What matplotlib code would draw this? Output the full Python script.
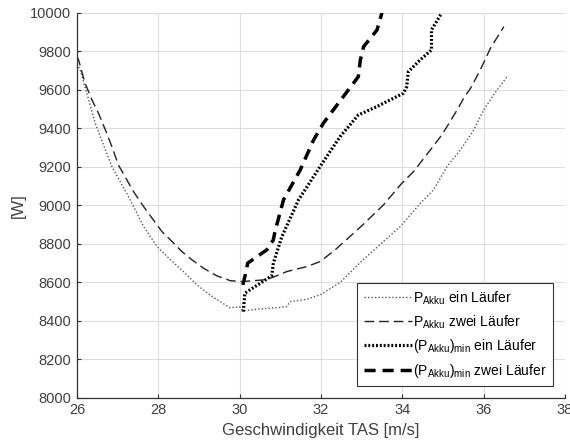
import numpy as np
import matplotlib.pyplot as plt

plt.rcParams['font.family'] = ['Liberation Sans', 'DejaVu Sans']
plt.rcParams['mathtext.fontset'] = 'custom'
plt.rcParams['mathtext.rm'] = 'Liberation Sans'
plt.rcParams['mathtext.it'] = 'Liberation Sans'

# P_Akku ein Läufer
v_ein = [26.0, 26.08, 26.29, 26.45, 26.7, 26.86, 27.31, 27.64, 27.97, 28.3,
         28.62, 28.95, 29.3, 29.76, 30.0, 30.08, 30.5, 31.0, 31.16, 31.24,
         31.65, 31.98, 32.47, 33.0, 33.5, 33.95, 34.45, 34.77, 35.1, 35.43,
         35.76, 36.0, 36.33, 36.58]
p_ein = [9735, 9704, 9548, 9427, 9288, 9202, 9029, 8890, 8786, 8717,
         8656, 8587, 8530, 8468, 8473, 8452, 8462, 8470, 8474, 8500,
         8512, 8535, 8599, 8710, 8805, 8890, 9012, 9081, 9202, 9288,
         9392, 9496, 9600, 9669]

# P_Akku zwei Läufer
v_zwei = [26.0, 26.04, 26.2, 26.37, 26.53, 26.7, 26.86, 27.02, 27.39, 27.64,
          27.85, 28.09, 28.34, 28.58, 28.83, 29.11, 29.44, 29.77, 30.06, 30.59,
          30.83, 31.16, 31.65, 31.98, 32.35, 33.03, 33.54, 33.99, 34.28, 34.69,
          34.94, 35.1, 35.35, 35.51, 35.68, 35.92, 36.17, 36.5]
p_zwei = [9775, 9756, 9635, 9548, 9479, 9392, 9305, 9210, 9072, 8994,
          8933, 8864, 8812, 8760, 8717, 8674, 8634, 8609, 8604, 8613,
          8627, 8656, 8682, 8708, 8769, 8899, 9003, 9115, 9176, 9288,
          9357, 9409, 9496, 9557, 9609, 9704, 9817, 9929]

# (P_Akku)_min ein Läufer
v_min_ein = [30.09, 30.13, 30.79, 30.83, 31.04, 31.45, 31.98, 32.47, 32.92,
             33.37, 34.03, 34.11, 34.15, 34.44, 34.72, 34.72, 34.97]
p_min_ein = [8448, 8544, 8634, 8700, 8838, 9029, 9202, 9357, 9470,
             9513, 9583, 9617, 9695, 9756, 9808, 9912, 10000]

# (P_Akku)_min zwei Läufer
v_min_zwei = [30.08, 30.13, 30.2, 30.67, 30.83, 30.87, 31.08, 31.49, 31.82,
              32.06, 32.55, 32.92, 32.97, 33.05, 33.38, 33.5]
p_min_zwei = [8587, 8630, 8700, 8769, 8821, 8864, 9029, 9184, 9340,
              9427, 9565, 9669, 9756, 9825, 9912, 10000]

fig = plt.figure(figsize=(5.7, 4.48), dpi=100)
ax = fig.add_axes([0.135, 0.112, 0.856, 0.859])

ax.plot(v_ein, p_ein, color='#555555', lw=1.0, linestyle=(0, (1, 1.5)),
        label=r'P$_{\mathrm{Akku}}$ ein Läufer')
ax.plot(v_zwei, p_zwei, color='#222222', lw=1.0, linestyle=(0, (7, 3.5)),
        label=r'P$_{\mathrm{Akku}}$ zwei Läufer')
ax.plot(v_min_ein, p_min_ein, color='black', lw=2.3, linestyle=(0, (0.6, 0.6)),
        label=r'(P$_{\mathrm{Akku}}$)$_{\mathrm{min}}$ ein Läufer')
ax.plot(v_min_zwei, p_min_zwei, color='black', lw=2.5, linestyle=(0, (3.2, 2.0)),
        label=r'(P$_{\mathrm{Akku}}$)$_{\mathrm{min}}$ zwei Läufer')

ax.set_xlim(26, 38)
ax.set_ylim(8000, 10000)
ax.set_xticks(np.arange(26, 39, 2))
ax.set_yticks(np.arange(8000, 10001, 200))
ax.grid(True, color='#dddddd', lw=0.8)
ax.set_axisbelow(True)
for s in ['top', 'right']:
    ax.spines[s].set_visible(False)
for s in ['left', 'bottom']:
    ax.spines[s].set_color('#333333')
    ax.spines[s].set_linewidth(0.9)
ax.tick_params(direction='in', length=3, labelsize=10.5, colors='#333333',
               labelcolor='#404040', pad=4)

ax.set_xlabel('Geschwindigkeit TAS [m/s]', fontsize=12, color='#404040', labelpad=4)
ax.set_ylabel('[W]', fontsize=12, color='#404040', labelpad=3)

leg = ax.legend(loc='lower right', bbox_to_anchor=(0.99, 0.012), fontsize=10,
                handlelength=3.5, handletextpad=0.08, borderpad=0.45,
                labelspacing=0.48, fancybox=False, framealpha=1)
leg.get_frame().set_edgecolor('#333333')
leg.get_frame().set_linewidth(0.8)

fig.savefig('out.png', dpi=100)
